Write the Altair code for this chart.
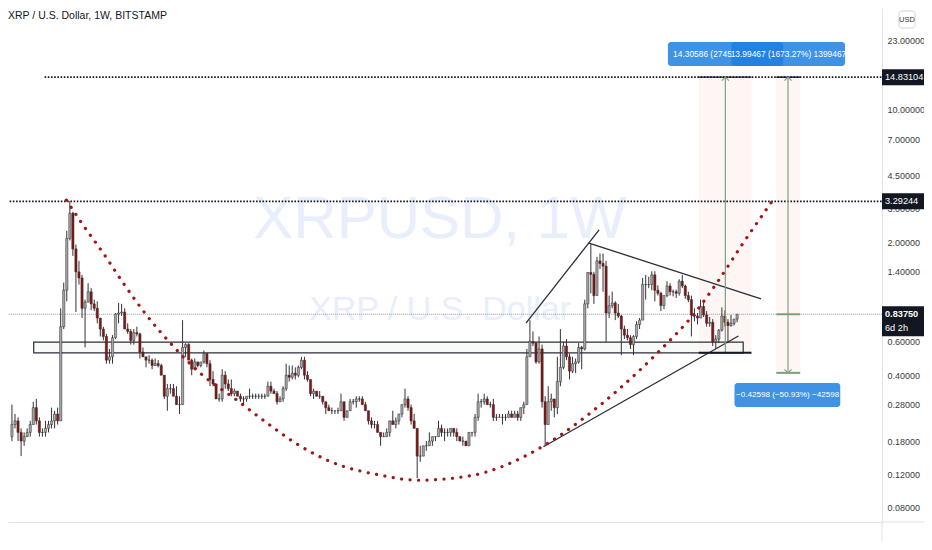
import altair as alt
import pandas as pd

FONT = "Liberation Sans, Arial, sans-serif"

# ---------------- weekly candles (Monday open), first week 2017-08-21 ----------------
FIRST_WEEK = "2017-08-21"
FIRST_OPEN = 0.19

HIGH = (
    # 2017 Aug21..Dec25
    [0.28, 0.25, 0.24, 0.21, 0.20, 0.21, 0.23, 0.29, 0.30, 0.24, 0.21,
     0.23, 0.23, 0.27, 0.26, 0.27, 0.90, 1.23, 2.30]
    # 2018
    + [3.31, 2.90, 1.95, 1.60, 1.35, 1.00, 1.22, 1.15, 1.00, 0.98, 0.80, 0.72, 0.66,
       0.55, 0.65, 0.85, 0.96, 0.95, 0.90, 0.75, 0.70, 0.70, 0.72, 0.67, 0.56, 0.50,
       0.51, 0.49, 0.49, 0.48, 0.46, 0.40, 0.36, 0.36, 0.36, 0.35, 0.31, 0.78, 0.59,
       0.59, 0.49, 0.49, 0.47, 0.47, 0.54, 0.52, 0.48, 0.42, 0.36, 0.32, 0.43, 0.42, 0.38]
    # 2019
    + [0.38, 0.34, 0.33, 0.32, 0.31, 0.31, 0.34, 0.32, 0.32, 0.32, 0.32, 0.32,
       0.37, 0.37, 0.34, 0.33, 0.31, 0.35, 0.46, 0.45, 0.45, 0.44, 0.45, 0.50, 0.50,
       0.42, 0.38, 0.34, 0.33, 0.33, 0.31, 0.29, 0.28, 0.27, 0.26, 0.27, 0.32, 0.29, 0.26,
       0.30, 0.30, 0.31, 0.31, 0.31, 0.29, 0.26, 0.24, 0.23, 0.23, 0.20, 0.20, 0.21]
    # 2020
    + [0.23, 0.26, 0.24, 0.25, 0.28, 0.34, 0.31, 0.28, 0.25, 0.21, 0.17, 0.17, 0.18,
       0.20, 0.19, 0.19, 0.23, 0.22, 0.21, 0.21, 0.21, 0.21, 0.21, 0.19, 0.19, 0.18,
       0.20, 0.20, 0.25, 0.32, 0.30, 0.32, 0.31, 0.29, 0.30, 0.25, 0.25, 0.25, 0.25,
       0.26, 0.26, 0.26, 0.26, 0.27, 0.29, 0.55, 0.78, 0.68, 0.60, 0.64, 0.58, 0.31]
    # 2021
    + [0.35, 0.32, 0.30, 0.50, 0.70, 0.60, 0.62, 0.52, 0.50, 0.49, 0.59, 0.57, 1.00,
       1.39, 1.96, 1.40, 1.68, 1.75, 1.75, 1.60, 1.05, 1.10, 0.98, 0.95, 0.83, 0.73,
       0.70, 0.65, 0.65, 0.77, 0.80, 1.30, 1.35, 1.32, 1.41, 1.41, 1.19, 1.10, 1.05,
       1.25, 1.22, 1.13, 1.13, 1.28, 1.35, 1.20, 1.10, 1.05, 0.90, 0.85, 1.00, 0.97]
    # 2022 Jan3..Mar14
    + [0.87, 0.81, 0.79, 0.65, 0.70, 0.91, 0.88, 0.79, 0.83, 0.79, 0.84]
)

LOW = (
    [0.18, 0.21, 0.18, 0.15, 0.17, 0.19, 0.19, 0.22, 0.22, 0.19, 0.19,
     0.19, 0.20, 0.21, 0.21, 0.22, 0.23, 0.70, 0.98]
    + [2.05, 1.70, 0.86, 1.20, 0.80, 0.56, 0.97, 0.88, 0.87, 0.75, 0.64, 0.61, 0.46,
       0.46, 0.46, 0.62, 0.75, 0.82, 0.70, 0.66, 0.58, 0.58, 0.64, 0.49, 0.50, 0.44,
       0.46, 0.43, 0.45, 0.44, 0.40, 0.30, 0.26, 0.32, 0.31, 0.28, 0.25, 0.28, 0.50,
       0.48, 0.40, 0.43, 0.44, 0.44, 0.46, 0.44, 0.35, 0.35, 0.30, 0.29, 0.29, 0.34, 0.33]
    + [0.31, 0.31, 0.31, 0.29, 0.28, 0.29, 0.30, 0.30, 0.30, 0.30, 0.30, 0.30,
       0.31, 0.32, 0.32, 0.28, 0.29, 0.29, 0.33, 0.37, 0.38, 0.38, 0.39, 0.43, 0.38,
       0.37, 0.31, 0.30, 0.31, 0.30, 0.28, 0.25, 0.26, 0.25, 0.25, 0.25, 0.26, 0.23, 0.24,
       0.26, 0.28, 0.27, 0.29, 0.28, 0.26, 0.22, 0.21, 0.21, 0.20, 0.17, 0.19, 0.19]
    + [0.19, 0.22, 0.21, 0.22, 0.24, 0.27, 0.26, 0.22, 0.21, 0.115, 0.14, 0.15, 0.16,
       0.17, 0.17, 0.18, 0.19, 0.19, 0.18, 0.19, 0.19, 0.19, 0.18, 0.18, 0.17, 0.17,
       0.17, 0.19, 0.19, 0.23, 0.27, 0.28, 0.28, 0.27, 0.23, 0.23, 0.24, 0.22, 0.23,
       0.24, 0.24, 0.24, 0.23, 0.23, 0.25, 0.28, 0.50, 0.57, 0.46, 0.46, 0.27, 0.17]
    + [0.22, 0.26, 0.24, 0.25, 0.35, 0.43, 0.48, 0.38, 0.41, 0.41, 0.46, 0.43, 0.54,
       0.90, 1.08, 0.95, 1.05, 1.45, 1.10, 0.60, 0.80, 0.90, 0.78, 0.80, 0.51, 0.62,
       0.61, 0.55, 0.51, 0.62, 0.70, 0.78, 1.00, 1.15, 1.12, 0.98, 1.05, 0.87, 0.89,
       1.03, 1.05, 1.04, 1.02, 1.05, 1.15, 1.01, 0.97, 0.64, 0.77, 0.74, 0.80, 0.81]
    + [0.72, 0.72, 0.57, 0.55, 0.59, 0.68, 0.72, 0.59, 0.72, 0.73, 0.76]
)

CLOSE = (
    [0.22, 0.23, 0.20, 0.18, 0.19, 0.20, 0.22, 0.27, 0.23, 0.20, 0.20,
     0.21, 0.22, 0.23, 0.25, 0.23, 0.72, 1.12, 2.10]
    + [2.85, 1.85, 1.40, 1.30, 0.90, 0.97, 1.10, 0.95, 0.90, 0.80, 0.70, 0.64, 0.48,
       0.50, 0.63, 0.84, 0.85, 0.86, 0.70, 0.68, 0.61, 0.67, 0.66, 0.53, 0.50, 0.48,
       0.48, 0.45, 0.46, 0.45, 0.40, 0.31, 0.34, 0.34, 0.31, 0.28, 0.28, 0.56, 0.58,
       0.48, 0.43, 0.47, 0.45, 0.47, 0.52, 0.46, 0.38, 0.36, 0.30, 0.30, 0.40, 0.36, 0.34]
    + [0.32, 0.33, 0.31, 0.30, 0.30, 0.31, 0.31, 0.31, 0.31, 0.31, 0.31, 0.31,
       0.35, 0.33, 0.32, 0.29, 0.30, 0.34, 0.40, 0.39, 0.41, 0.40, 0.44, 0.48, 0.40,
       0.38, 0.32, 0.33, 0.31, 0.31, 0.29, 0.27, 0.26, 0.26, 0.26, 0.26, 0.29, 0.24, 0.26,
       0.29, 0.29, 0.30, 0.30, 0.28, 0.26, 0.23, 0.22, 0.22, 0.20, 0.19, 0.19, 0.20]
    + [0.23, 0.22, 0.23, 0.25, 0.28, 0.30, 0.27, 0.23, 0.21, 0.15, 0.15, 0.17, 0.17,
       0.18, 0.19, 0.19, 0.21, 0.20, 0.20, 0.20, 0.21, 0.20, 0.19, 0.18, 0.18, 0.17,
       0.20, 0.20, 0.24, 0.29, 0.29, 0.30, 0.28, 0.28, 0.24, 0.24, 0.24, 0.24, 0.24,
       0.25, 0.24, 0.25, 0.24, 0.27, 0.28, 0.50, 0.60, 0.59, 0.47, 0.55, 0.29, 0.22]
    + [0.29, 0.30, 0.27, 0.37, 0.44, 0.57, 0.50, 0.42, 0.46, 0.47, 0.56, 0.55, 0.95,
       1.39, 1.36, 1.05, 1.60, 1.55, 1.50, 0.85, 0.93, 0.96, 0.85, 0.82, 0.70, 0.65,
       0.63, 0.58, 0.64, 0.74, 0.78, 1.20, 1.20, 1.20, 1.35, 1.12, 1.08, 0.93, 1.05,
       1.18, 1.10, 1.10, 1.08, 1.25, 1.18, 1.05, 1.00, 0.83, 0.82, 0.80, 0.92, 0.83]
    + [0.75, 0.76, 0.60, 0.62, 0.69, 0.82, 0.76, 0.73, 0.75, 0.79, 0.8375]
)

# ---------------- drawings (in chart coordinates: date, price) ----------------
CURVE_DATES = ["2017-12-24", "2018-02-02", "2018-03-20", "2018-05-04", "2018-06-26",
               "2018-08-26", "2018-11-02", "2019-01-16", "2019-03-18", "2019-06-10",
               "2019-08-24", "2019-12-16", "2020-03-09", "2020-07-07", "2020-12-13",
               "2021-03-30", "2021-06-13", "2021-09-12", "2021-12-12", "2022-01-26",
               "2022-03-25", "2022-06-01"]
CURVE_PRICES = [3.34, 2.44, 1.74, 1.22, 0.83, 0.57, 0.40, 0.300, 0.235, 0.172,
                0.140, 0.119, 0.112, 0.118, 0.164, 0.241, 0.334, 0.524, 0.88, 1.22,
                1.94, 3.26]

TREND_X1 = ["2020-11-14", "2021-04-06", "2020-12-24"]
TREND_X2 = ["2021-05-01", "2022-05-08", "2022-03-17"]
TREND_Y1 = [0.753, 1.99, 0.168]
TREND_Y2 = [2.33, 1.008, 0.643]

LEVELS = [14.83104, 3.29244]
LEVEL_LABELS = ["14.83104", "3.29244"]
LEVEL_START = ["2017-11-04", "2017-08-01"]
CHART_END = "2023-03-01"
LAST_PRICE = 0.8375

ZONE = {"x": ["2017-10-10"], "x2": ["2022-03-28"], "y": [0.524], "y2": [0.598]}

M1_X = ["2021-12-16", "2022-02-15", "2022-04-16"]
M1_Y = [0.52518, 14.83104]
M2_X = ["2022-06-12", "2022-07-09", "2022-08-06"]
M2_Y = [0.41152, 0.8375, 14.83104]

BOX_X1 = ["2021-10-06", "2022-03-01", "2022-03-08"]
BOX_X2 = ["2022-06-28", "2022-11-17", "2022-11-06"]
BOX_Y1 = [16.97, 16.97, 0.272]
BOX_Y2 = [22.7, 22.7, 0.364]
BOX_TEXT = ["14.30586 (2745.", "13.99467 (1673.27%) 1399467",
            "\u22120.42598 (\u221250.93%) \u221242598"]
BOX_TEXT_X = ["2021-10-18", "2022-07-10", "2022-07-08"]
BOX_TEXT_Y = [19.7, 19.7, 0.315]

TICK_DATES = ["2018-01-01", "2018-05-07", "2019-01-07", "2019-06-03", "2020-01-06",
              "2020-06-01", "2021-01-04", "2021-06-07", "2022-01-03", "2022-06-06",
              "2023-01-02"]
TICK_LABELS = ["2018", "Mei", "2019", "Jun", "2020", "Jun", "2021", "Jun", "2022",
               "Jun", "2023"]
Y_TICKS = [0.08, 0.12, 0.18, 0.28, 0.4, 0.6, 1.4, 2, 3, 4.5, 7, 10, 23]

TITLE = "XRP / U.S. Dollar, 1W, BITSTAMP"
WATERMARK = ["XRPUSD, 1W", "XRP / U.S. Dollar"]

# ---------------- build ----------------
def ms(s):
    return int(pd.Timestamp(s, tz="UTC").timestamp() * 1000)

W, H = 874, 514
AXW = 42  # width of price-axis strip

weeks = pd.date_range(FIRST_WEEK, periods=len(CLOSE), freq="7D").strftime("%Y-%m-%d")
opens = [FIRST_OPEN] + CLOSE[:-1]
candles = pd.DataFrame({"date": list(weeks), "open": opens, "high": HIGH,
                        "low": LOW, "close": CLOSE})
candles["dir"] = ["up" if c >= o else "down" for o, c in zip(opens, CLOSE)]

xs = alt.Scale(type="utc", domain=[ms("2017-08-23 10:00"), ms("2023-01-29 10:00")])
ys = alt.Scale(type="log", domain=[0.0675, 34.3], nice=False)

label_expr = "''"
for d, lab in zip(reversed(TICK_DATES), reversed(TICK_LABELS)):
    label_expr = f"datum.value == {ms(d)} ? '{lab}' : ({label_expr})"

AXIS_TXT = "#3b3b3b"
X_AX = alt.Axis(values=[ms(d) for d in TICK_DATES], labelExpr=label_expr, title=None,
                grid=False, ticks=False, domainColor="#e0e3eb", domainWidth=1,
                labelColor=AXIS_TXT, labelFont=FONT, labelFontSize=9,
                labelPadding=10, labelOverlap=False, labelFlush=False)
Y_AX = alt.Axis(orient="right", values=Y_TICKS, format=".5f", title=None, grid=False,
                ticks=False, domainColor="#e0e3eb", domainWidth=1, labelColor=AXIS_TXT,
                labelFont=FONT, labelFontSize=9, labelPadding=5, labelOverlap=False,
                labelFlush=False)


def X(f):
    return alt.X(f"{f}:T", scale=xs, axis=X_AX)


def Y(f):
    return alt.Y(f"{f}:Q", scale=ys, axis=Y_AX)


one = pd.DataFrame({"a": [0]})
layers = []

# watermark
layers.append(alt.Chart(pd.DataFrame({"t": [WATERMARK[0]]})).mark_text(
    font=FONT, fontSize=60, color="#e8eefc").encode(
    x=alt.value(432), y=alt.value(212), text="t:N"))
layers.append(alt.Chart(pd.DataFrame({"t": [WATERMARK[1]]})).mark_text(
    font=FONT, fontSize=34, color="#e8eefc").encode(
    x=alt.value(432), y=alt.value(302), text="t:N"))

# measure backgrounds
bands = pd.DataFrame({"x": [M1_X[0], M2_X[0]], "x2": [M1_X[2], M2_X[2]],
                      "y": [M1_Y[0], M2_Y[0]], "y2": [M1_Y[1], M2_Y[2]]})
layers.append(alt.Chart(bands).mark_rect(color="#fdeded", opacity=0.55).encode(
    x=X("x"), x2="x2", y=Y("y"), y2="y2"))

# support zone
layers.append(alt.Chart(pd.DataFrame(ZONE)).mark_rect(
    fill="#f4f7f4", fillOpacity=0.6, stroke="#2a2e39", strokeWidth=1.2, clip=True).encode(
    x=X("x"), x2="x2", y=Y("y"), y2="y2"))

# horizontal levels
lev = pd.DataFrame({"y": LEVELS, "x": LEVEL_START, "x2": [CHART_END] * 2})
layers.append(alt.Chart(lev).mark_rule(color="#131722", strokeWidth=1.8,
                                        strokeDash=[1.6, 1.6], clip=True).encode(
    x=X("x"), x2="x2", y=Y("y")))
lp = pd.DataFrame({"y": [LAST_PRICE], "x": ["2017-08-01"], "x2": [CHART_END]})
layers.append(alt.Chart(lp).mark_rule(color="#9598a1", strokeWidth=1,
                                       strokeDash=[1, 1], clip=True).encode(
    x=X("x"), x2="x2", y=Y("y")))

# candles
layers.append(alt.Chart(candles).mark_rule(color="#333333", strokeWidth=1, clip=True).encode(
    x=X("date"), y=Y("low"), y2="high"))
layers.append(alt.Chart(candles).mark_bar(size=2.2, stroke="#2a2a2a", strokeWidth=0.5,
                                          clip=True).encode(
    x=X("date"), y=Y("open"), y2="close",
    color=alt.Color("dir:N", scale=alt.Scale(domain=["up", "down"],
                                             range=["#a8a8a8", "#8b1414"]), legend=None)))

# trend lines
tr = pd.DataFrame({"x": TREND_X1, "x2": TREND_X2, "y": TREND_Y1, "y2": TREND_Y2})
layers.append(alt.Chart(tr).mark_rule(color="#2a2e39", strokeWidth=1.3).encode(
    x=X("x"), x2="x2", y=Y("y"), y2="y2"))

# dotted red curve
cv = pd.DataFrame({"d": CURVE_DATES, "p": CURVE_PRICES})
layers.append(alt.Chart(cv).mark_line(color="#a31515", strokeWidth=3.2,
                                      strokeDash=[0.1, 8.4], strokeCap="round",
                                      interpolate="monotone").encode(
    x=X("d"), y=Y("p")))

# measure tools
GREEN = "#7fa07f"
mv = pd.DataFrame({"x": [M1_X[1], M2_X[1]], "y": [M1_Y[0], M2_Y[0]],
                   "y2": [M1_Y[1], M2_Y[2]]})
layers.append(alt.Chart(mv).mark_rule(color=GREEN, strokeWidth=1.2).encode(
    x=X("x"), y=Y("y"), y2="y2"))
mh = pd.DataFrame({"x": [M2_X[0], M2_X[0]], "x2": [M2_X[2], M2_X[2]],
                   "y": [M2_Y[1], M2_Y[0]]})
layers.append(alt.Chart(mh).mark_rule(color=GREEN, strokeWidth=2).encode(
    x=X("x"), x2="x2", y=Y("y")))
mk = pd.DataFrame({"x": [M1_X[0], M1_X[0], M2_X[0]], "x2": [M1_X[2], M1_X[2], M2_X[2]],
                   "y": [M1_Y[0], M1_Y[1], M2_Y[2]], "w": [2.2, 1.4, 1.4]})
layers.append(alt.Chart(mk).mark_rule(color="#131722").encode(
    x=X("x"), x2="x2", y=Y("y"), strokeWidth=alt.StrokeWidth("w:Q", scale=None)))
up = pd.DataFrame({"x": [M1_X[1], M2_X[1]], "y": [M1_Y[1], M2_Y[2]]})
layers.append(alt.Chart(up).mark_point(shape="M -1 1 L 0 0 L 1 1", filled=False, size=50,
                                       strokeWidth=1.2, color=GREEN, opacity=1).encode(
    x=X("x"), y=Y("y")))
dn = pd.DataFrame({"x": [M2_X[1]], "y": [M2_Y[0]]})
layers.append(alt.Chart(dn).mark_point(shape="M -1 -1 L 0 0 L 1 -1", filled=False, size=50,
                                       strokeWidth=1.2, color=GREEN, opacity=1).encode(
    x=X("x"), y=Y("y")))

# measure label boxes
BLUE = "#1e7fe0"
BOX_FS = [8.4, 8.4, 8.1]
for i in range(3):
    b = pd.DataFrame({"x": [BOX_X1[i]], "x2": [BOX_X2[i]], "y": [BOX_Y1[i]], "y2": [BOX_Y2[i]]})
    layers.append(alt.Chart(b).mark_rect(color=BLUE, opacity=0.85, cornerRadius=3).encode(
        x=X("x"), x2="x2", y=Y("y"), y2="y2"))
    t = pd.DataFrame({"x": [BOX_TEXT_X[i]], "y": [BOX_TEXT_Y[i]], "t": [BOX_TEXT[i]]})
    layers.append(alt.Chart(t).mark_text(color="white", font=FONT, fontSize=BOX_FS[i],
                                         align="left" if i == 0 else "center").encode(
        x=X("x"), y=Y("y"), text="t:N"))

# price axis tags
tg = pd.DataFrame({"p": LEVELS, "t": LEVEL_LABELS})
layers.append(alt.Chart(tg).mark_rect(color="#131722", yOffset=-8, y2Offset=8).encode(
    x=alt.value(W), x2=alt.value(W + AXW), y=Y("p"), y2="p"))
layers.append(alt.Chart(tg).mark_text(color="white", font=FONT, fontSize=9.2,
                                      align="left").encode(
    x=alt.value(W + 3), y=Y("p"), text="t:N"))
pt = pd.DataFrame({"p": [LAST_PRICE], "t": [f"{LAST_PRICE:.5f}"], "c": ["6d 2h"]})
layers.append(alt.Chart(pt).mark_rect(color="#131722", yOffset=-8, y2Offset=22).encode(
    x=alt.value(W), x2=alt.value(W + AXW), y=Y("p"), y2="p"))
layers.append(alt.Chart(pt).mark_text(color="white", font=FONT, fontSize=9.2,
                                      fontWeight="bold", align="left").encode(
    x=alt.value(W + 3), y=Y("p"), text="t:N"))
layers.append(alt.Chart(pt).mark_text(color="white", font=FONT, fontSize=9.2,
                                      align="left", dy=14).encode(
    x=alt.value(W + 3), y=Y("p"), text="c:N"))

# axis separator extensions
layers.append(alt.Chart(one).mark_rule(color="#e0e3eb").encode(
    x=alt.value(W), x2=alt.value(W + AXW), y=alt.value(H)))
layers.append(alt.Chart(one).mark_rule(color="#e0e3eb").encode(
    x=alt.value(W), y=alt.value(H), y2=alt.value(H + 20)))

# USD badge
layers.append(alt.Chart(one).mark_rect(fill="white", stroke="#d1d4dc", cornerRadius=3).encode(
    x=alt.value(W + 17), x2=alt.value(W + 33), y=alt.value(3), y2=alt.value(20)))
layers.append(alt.Chart(pd.DataFrame({"t": ["USD"]})).mark_text(
    font=FONT, fontSize=7.5, color="#333333").encode(
    x=alt.value(W + 25), y=alt.value(12), text="t:N"))

# title
layers.append(alt.Chart(pd.DataFrame({"t": [TITLE]})).mark_text(
    font=FONT, fontSize=10.5, color="#131722", align="left").encode(
    x=alt.value(0), y=alt.value(8), text="t:N"))

chart = alt.layer(*layers).properties(
    width=W, height=H,
    autosize=alt.AutoSizeParams(type="none"),
    padding={"left": 0, "top": 0, "right": AXW, "bottom": 20},
).configure_view(stroke=None)

chart.save("out.html", embed_options={"renderer": "svg", "actions": False})
